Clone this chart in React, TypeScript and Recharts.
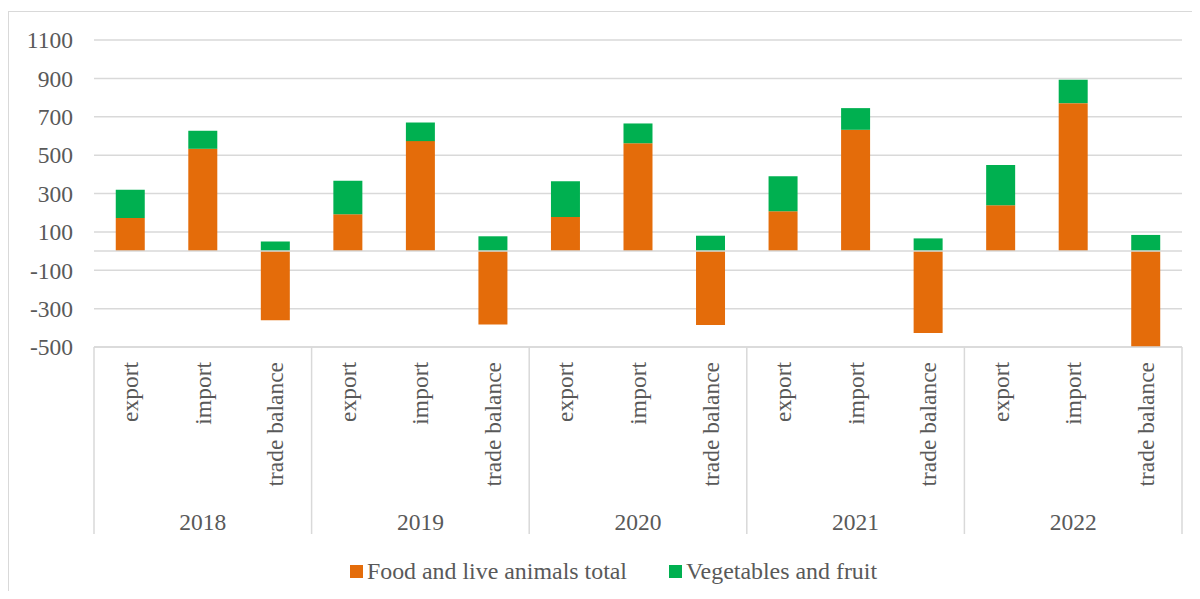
import { BarChart, Bar, XAxis, YAxis, CartesianGrid, ReferenceLine, Legend } from 'recharts'

const years = ['2018', '2019', '2020', '2021', '2022']
const flows = ['export', 'import', 'trade balance']

// one value per year and flow: export, import, trade balance
const foodTotal = [172, 533, -360, 192, 573, -383, 178, 562, -385, 207, 632, -427, 239, 771, -524]
const vegFruit = [147, 94, 50, 174, 97, 77, 186, 103, 80, 183, 113, 66, 210, 122, 84]

const yTicks = [-500, -300, -100, 100, 300, 500, 700, 900, 1100]

const data = years.flatMap((year, yi) =>
  flows.map((flow, fi) => ({
    year,
    flow,
    food: foodTotal[yi * flows.length + fi],
    veg: vegFruit[yi * flows.length + fi],
  }))
)

const ORANGE = '#E46C0A'
const GREEN = '#00B050'
const GRID = '#D9D9D9'
const TEXT = '#595959'
const FONT = "'Liberation Serif', 'Times New Roman', serif"
const FONT_SIZE = 23.5

const W = 1192
const H = 583
const Y_AXIS_W = 86
const MARGIN = { top: 32, right: 18, bottom: 7, left: 0 }
const AXIS_H = 187

// two-level category axis: flow names turned upright, year under each group,
// and a divider at every group edge
function CategoryTick(props: any) {
  const { x, y, payload } = props
  const i: number = payload.index
  const row = data[i]
  const half = payload.offset || (W - MARGIN.right - Y_AXIS_W) / data.length / 2
  const n = flows.length
  return (
    <g>
      <text
        transform={`translate(${x},${y + 15}) rotate(-90)`}
        textAnchor="end"
        dominantBaseline="central"
        fill={TEXT}
        fontSize={FONT_SIZE}
        fontFamily={FONT}
      >
        {row.flow}
      </text>
      {i % n === 1 && (
        <text x={x} y={y + 175} textAnchor="middle" dominantBaseline="central" fill={TEXT} fontSize={FONT_SIZE} fontFamily={FONT}>
          {row.year}
        </text>
      )}
      {i % n === 0 && <line x1={x - half} x2={x - half} y1={y} y2={y + AXIS_H} stroke={GRID} strokeWidth={1.5} />}
      {i === data.length - 1 && <line x1={x + half} x2={x + half} y1={y} y2={y + AXIS_H} stroke={GRID} strokeWidth={1.5} />}
    </g>
  )
}

function LegendContent({ payload }: any) {
  return (
    <div
      style={{
        height: 50,
        boxSizing: 'border-box',
        paddingTop: 24,
        paddingLeft: 37,
        display: 'flex',
        justifyContent: 'center',
        gap: 42,
        fontFamily: FONT,
        fontSize: 23.9,
        lineHeight: '26px',
        color: TEXT,
      }}
    >
      {(payload || []).map((entry: any) => (
        <span key={entry.value} style={{ display: 'flex', alignItems: 'center' }}>
          <span style={{ width: 13, height: 13, background: entry.color, marginRight: 4 }} />
          {entry.value}
        </span>
      ))}
    </div>
  )
}

export default function App() {
  return (
    <div style={{ position: 'relative', width: W, height: H, overflow: 'hidden', fontFamily: FONT, background: '#fff' }}>
      <div
        style={{
          position: 'absolute',
          left: 0,
          top: 3,
          width: W + 20,
          height: H + 20,
          borderTop: `1.5px solid ${GRID}`,
          borderLeft: `1.5px solid ${GRID}`,
        }}
      />
      <BarChart width={W} height={H} data={data} margin={MARGIN} stackOffset="sign" barCategoryGap="30%">
        <CartesianGrid vertical={false} stroke={GRID} strokeWidth={1.5} />
        <XAxis
          dataKey="flow"
          interval={0}
          height={AXIS_H}
          tickLine={false}
          tickSize={0}
          tickMargin={0}
          axisLine={{ stroke: GRID, strokeWidth: 1.5 }}
          tick={<CategoryTick />}
        />
        <YAxis
          type="number"
          domain={[-500, 1100]}
          ticks={yTicks}
          interval={0}
          allowDataOverflow
          width={Y_AXIS_W}
          axisLine={false}
          tickLine={false}
          tickSize={0}
          tickMargin={21}
          tick={{ fill: TEXT, fontSize: FONT_SIZE, fontFamily: FONT }}
        />
        <Legend verticalAlign="bottom" content={<LegendContent />} />
        <Bar dataKey="food" name="Food and live animals total" stackId="t" fill={ORANGE} isAnimationActive={false} />
        <Bar dataKey="veg" name="Vegetables and fruit" stackId="t" fill={GREEN} isAnimationActive={false} />
        <ReferenceLine y={0} stroke={GRID} strokeWidth={1.5} />
      </BarChart>
    </div>
  )
}
